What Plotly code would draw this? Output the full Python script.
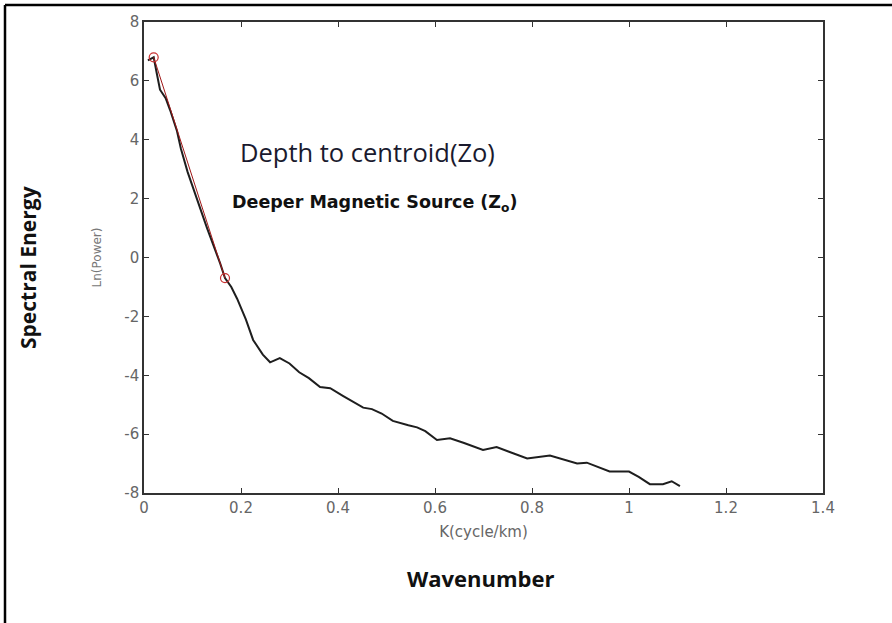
import plotly.graph_objects as go

# Data
k = [0.008, 0.02, 0.027, 0.033, 0.045, 0.054, 0.068, 0.076, 0.09, 0.109, 0.13, 0.157, 0.167,
     0.18, 0.192, 0.21, 0.225, 0.245, 0.26, 0.28, 0.30, 0.32, 0.34, 0.363, 0.384, 0.41,
     0.43, 0.452, 0.47, 0.49, 0.513, 0.528, 0.545, 0.563, 0.58, 0.604, 0.631, 0.66,
     0.699, 0.727, 0.76, 0.79, 0.837, 0.86, 0.893, 0.913, 0.96, 1.0, 1.02, 1.043,
     1.07, 1.088, 1.105]
ln_power = [6.7, 6.8, 6.2, 5.7, 5.4, 5.0, 4.3, 3.7, 2.9, 2.0, 1.0, -0.2, -0.7,
            -1.0, -1.4, -2.1, -2.8, -3.3, -3.56, -3.42, -3.6, -3.9, -4.1, -4.4, -4.44, -4.7,
            -4.9, -5.1, -5.15, -5.3, -5.55, -5.63, -5.7, -5.77, -5.9, -6.2, -6.14, -6.3,
            -6.54, -6.44, -6.65, -6.83, -6.73, -6.85, -7.0, -6.97, -7.27, -7.27, -7.45, -7.7,
            -7.7, -7.6, -7.77]

fit_k = [0.02, 0.167]
fit_ln = [6.8, -0.7]

x_ticks = [0, 0.2, 0.4, 0.6, 0.8, 1, 1.2, 1.4]
x_tick_text = ["0", "0.2", "0.4", "0.6", "0.8", "1", "1.2", "1.4"]
y_ticks = [-8, -6, -4, -2, 0, 2, 4, 6, 8]
y_tick_text = ["-8", "-6", "-4", "-2", "0", "2", "4", "6", "8"]

fig = go.Figure()
fig.add_trace(go.Scatter(x=k, y=ln_power, mode="lines",
                         line=dict(color="#1e1e1e", width=2), showlegend=False))
fig.add_trace(go.Scatter(x=fit_k, y=fit_ln, mode="lines+markers",
                         line=dict(color="#a01818", width=1),
                         marker=dict(symbol="circle-open", size=9, color="#c83030",
                                     line=dict(width=1.2)),
                         showlegend=False))

axis_common = dict(showgrid=False, zeroline=False, showline=True, mirror="ticks",
                   linecolor="#333", linewidth=1.5, ticks="inside", ticklen=5,
                   tickcolor="#333", tickfont=dict(family="DejaVu Sans", size=15, color="#666"))

fig.update_xaxes(range=[0, 1.4], tickvals=x_ticks, ticktext=x_tick_text,
                 title=dict(text="K(cycle/km)", font=dict(family="DejaVu Sans", size=15, color="#666"),
                            standoff=11), **axis_common)
fig.update_yaxes(range=[-8, 8], tickvals=y_ticks, ticktext=y_tick_text,
                 title=dict(text="Ln(Power)", font=dict(family="DejaVu Sans", size=12, color="#777"),
                            standoff=20), **axis_common)

fig.add_annotation(text="Depth to centroid(Zo)", xref="paper", yref="paper",
                   x=(238 - 144) / 679, y=1 - (152 - 22) / 471, xanchor="left", yanchor="middle",
                   showarrow=False, font=dict(family="Open Sans", size=25.5, color="#1a1a2e"))
fig.add_annotation(text="<b>Deeper Magnetic Source (Z<sub>o</sub>)</b>", xref="paper", yref="paper",
                   x=(230 - 144) / 679, y=1 - (203 - 22) / 471, xanchor="left", yanchor="middle",
                   showarrow=False, font=dict(family="DejaVu Sans", size=17.5, color="#111"))
fig.add_annotation(text="<b>Spectral Energy</b>", xref="paper", yref="paper",
                   x=(28 - 144) / 679, y=1 - (268 - 22) / 471, xanchor="center", yanchor="middle",
                   textangle=-90, showarrow=False,
                   font=dict(family="Open Sans", size=21, color="#111"))
fig.add_annotation(text="<b>Wavenumber</b>", xref="paper", yref="paper",
                   x=(481 - 144) / 679, y=1 - (578 - 22) / 471, xanchor="center", yanchor="middle",
                   showarrow=False, font=dict(family="Open Sans", size=22, color="#111"))

# outer frame (left and top edges)
fig.add_shape(type="line", xref="paper", yref="paper",
              x0=(5 - 144) / 679, x1=(892 - 144) / 679, y0=1 + 17 / 471, y1=1 + 17 / 471,
              line=dict(color="black", width=2.5))
fig.add_shape(type="line", xref="paper", yref="paper",
              x0=(5 - 144) / 679, x1=(5 - 144) / 679, y0=1 + 17 / 471, y1=-(623 - 493) / 471,
              line=dict(color="black", width=2.5))

fig.update_layout(width=892, height=623, margin=dict(l=144, r=69, t=22, b=130),
                  paper_bgcolor="white", plot_bgcolor="white")

fig.write_html("out.html")
